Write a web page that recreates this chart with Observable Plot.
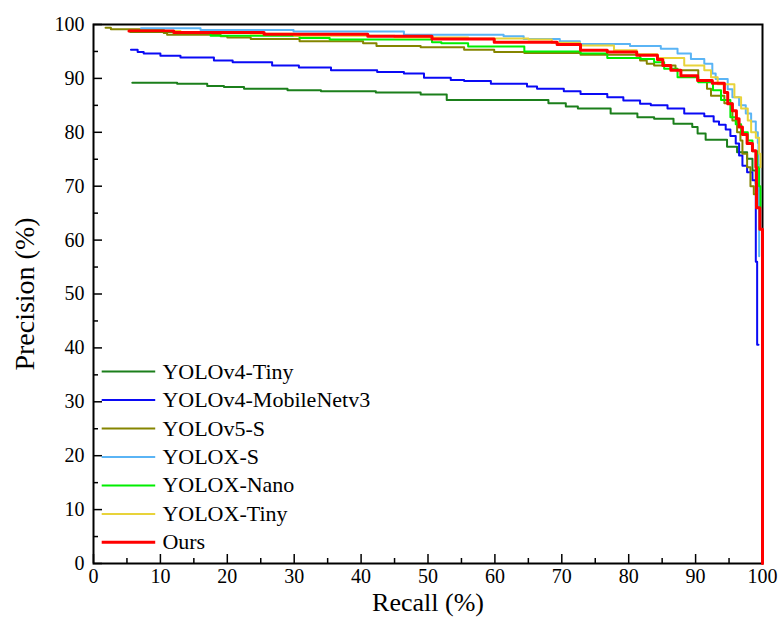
<!DOCTYPE html>
<html><head><meta charset="utf-8">
<script src="https://cdn.jsdelivr.net/npm/d3@7"></script>
<script src="https://cdn.jsdelivr.net/npm/@observablehq/plot@0.6"></script>
<style>
body{margin:0;background:#fff}
#chart{width:781px;height:624px}
#chart svg, #chart svg text{font-family:"Liberation Serif","Times New Roman",serif !important}
</style>
</head><body><div id="chart"></div>
<script>
// ---- data ----
const modelNames = ["YOLOv4-Tiny","YOLOv4-MobileNetv3","YOLOv5-S","YOLOX-S","YOLOX-Nano","YOLOX-Tiny","Ours"];
const modelColors = ["#1B7F1B","#0A0AF5","#858500","#5AB4F5","#00EE00","#E8D33A","#FF0000"];

const tinyV4Recall = [5.8,12.5,17,19.5,22.5,29,34,42.2,48.9,52.8,68,70.6,72.4,77.3,81.3,83.8,86.7,89.5,90.3,91.5,94.7,96.2,97.7,98.5,99.0,99.3,99.5,99.6];
const tinyV4Precision = [89.2,89.0,88.6,88.4,88.1,87.8,87.6,87.4,87.0,86.0,85.4,84.8,84.4,83.5,82.8,82.5,81.6,81.0,79.8,78.6,77.3,76.3,75.1,72.9,70.5,69.2,66.0,65.0];

const mobileRecall = [5.6,6.6,7.5,10,13,18,20.8,26.7,30.7,35.5,42.4,46.4,49.4,53.4,55.4,59.4,64.8,66.3,70.3,72.8,76.8,79.2,81.7,83.3,85.8,88.3,91.3,92.7,93.5,94.5,95.2,96.0,96.5,97.0,97.7,98.5,99.0,99.0,99.2,99.2,99.4];
const mobilePrecision = [95.3,94.9,94.6,94.2,93.9,93.3,93.0,92.4,92.0,91.5,91.2,90.9,90.1,89.7,89.5,89.0,88.5,88.1,87.6,87.1,86.5,85.9,85.3,85.0,84.4,83.5,83.0,82.0,81.4,80.5,79.3,77.9,75.7,73.8,72.6,71.1,66.0,56.0,56.0,40.6,40.6];

const v5sRecall = [1.8,2.6,10.5,11,19,20,23.5,30.8,40.3,42.3,48.9,55.4,59.9,64.4,72.8,81.7,82.7,83.8,87,90.4,91.7,92.3,94.3,95.5,96.2,96.7,97.0,97.7,98.2,98.7,99.3,99.5];
const v5sPrecision = [99.4,99.1,98.4,98.1,97.8,97.6,97.3,96.9,96.5,96.0,95.8,95.3,94.9,94.7,94.4,93.3,92.7,92.4,91.5,89.5,88.1,86.8,85.4,82.2,80.0,78.5,76.0,73.5,70.0,68.5,66.0,66.0];

const xsRecall = [7.1,16.0,29.9,46.4,61.3,64.3,69.7,72.7,80.2,84.8,87.3,89.3,91.3,92.5,93.0,94.8,95.5,96.5,97.5,98.3,99.0,99.3,99.4,99.5,99.5];
const xsPrecision = [99.3,99.0,98.7,98.1,97.8,97.3,96.9,96.4,96.0,95.5,94.6,93.6,92.7,90.9,89.9,88.0,86.5,85.0,83.5,82.0,80.0,78.0,74.0,68.0,57.0];

const nanoRecall = [5.5,17.5,30.8,35.3,50.6,52,56,64.4,72.8,76.8,81.8,83.8,85.3,87.3,90.4,92.6,93.8,95.2,96.0,96.8,97.8,98.5,99.2,99.5,99.7];
const nanoPrecision = [98.6,97.9,97.5,97.2,96.7,96.5,95.9,95.0,94.6,93.8,93.6,93.0,91.8,90.2,89.3,87.8,86.0,82.8,81.5,80.0,78.5,76.5,73.5,70.0,66.0];

const xTinyRecall = [5.5,13,23.5,30,45,56,65,68.5,72.7,77.8,81.2,84.3,88.3,91.3,92.3,93.3,95.8,96.8,97.8,98.3,99.0,99.5,99.7];
const xTinyPrecision = [98.8,98.6,98.3,97.9,97.6,97.4,97.2,96.6,96.1,95.2,94.5,93.8,92.4,91.5,90.2,88.9,86.5,84.4,82.2,80.0,79.0,76.0,73.5];

const oursRecall = [5.3,12,25.5,41,50.6,59.9,69.3,72.8,76.8,81.2,84.3,85.1,86.3,87.8,90.3,92.5,94.3,94.8,95.5,96.1,96.5,97.0,97.7,98.5,99.0,99.1,99.6,100,100];
const oursPrecision = [98.8,98.5,98.2,97.8,97.3,96.7,96.3,95.2,94.9,94.3,93.5,92.4,91.5,90.5,89.6,89.1,87.4,85.3,84.0,82.5,81.0,79.6,77.9,76.6,73.5,66.0,62.0,60.0,0];

const xMajorTicks = [0,10,20,30,40,50,60,70,80,90,100];
const xMinorTicks = [5,15,25,35,45,55,65,75,85,95];
const yMajorTicks = [0,10,20,30,40,50,60,70,80,90,100];
const yMinorTicks = [5,15,25,35,45,55,65,75,85,95];

// ---- build ----
const recalls = [tinyV4Recall, mobileRecall, v5sRecall, xsRecall, nanoRecall, xTinyRecall, oursRecall];
const precisions = [tinyV4Precision, mobilePrecision, v5sPrecision, xsPrecision, nanoPrecision, xTinyPrecision, oursPrecision];
const seriesData = modelNames.map((name, k) => recalls[k].map((r, i) => ({model: name, r, p: precisions[k][i]})));

const W = 781, H = 624, mL = 93, mR = 19, mT = 24, mB = 61;
const plotW = W - mL - mR, plotH = H - mT - mB;
const serif = "Liberation Serif";

const legendRows = modelNames.map((name, i) => ({name, color: modelColors[i], y: 35.6 - i * 5.28}));

const lineMarks = seriesData.map((d, k) => Plot.line(d, {
  x: "r", y: "p", stroke: modelColors[k], strokeWidth: k === 6 ? 3 : 2, curve: "step-after"
}));

const chart = Plot.plot({
  width: W, height: H,
  marginLeft: mL, marginRight: mR, marginTop: mT, marginBottom: mB,
  style: {fontFamily: serif, background: "white", color: "black"},
  x: {domain: [0, 100], label: null},
  y: {domain: [0, 100], label: null},
  marks: [
    Plot.frame({stroke: "black", strokeWidth: 2}),
    Plot.tickX(xMajorTicks, {x: d => d, insetTop: plotH - 9, stroke: "black", strokeWidth: 1.5}),
    Plot.tickX(xMinorTicks, {x: d => d, insetTop: plotH - 5, stroke: "black", strokeWidth: 1.5}),
    Plot.tickY(yMajorTicks, {y: d => d, insetRight: plotW - 9, stroke: "black", strokeWidth: 1.5}),
    Plot.tickY(yMinorTicks, {y: d => d, insetRight: plotW - 5, stroke: "black", strokeWidth: 1.5}),
    ...lineMarks,
    Plot.axisX({ticks: xMajorTicks, tickSize: 0, tickPadding: 5, fontSize: 20, fontFamily: serif, tickFormat: d => String(d)}),
    Plot.axisY({ticks: yMajorTicks, tickSize: 0, tickPadding: 9, fontSize: 20, fontFamily: serif, tickFormat: d => String(d)}),
    Plot.ruleY(legendRows, {y: "y", x1: 1.3, x2: 9.3, stroke: "color", strokeWidth: d => d.name === "Ours" ? 3 : 2}),
    Plot.text(legendRows, {x: 10.3, y: "y", text: "name", textAnchor: "start", fontSize: 22, fontFamily: serif, fill: "black"}),
    Plot.text(["Recall (%)"], {frameAnchor: "bottom", textAnchor: "middle", dy: 47, fontSize: 26, fontFamily: serif, fill: "black"}),
    Plot.text(["Precision (%)"], {frameAnchor: "left", textAnchor: "middle", dx: -68, rotate: -90, fontSize: 28, fontFamily: serif, fill: "black"})
  ]
});
document.getElementById("chart").append(chart);
</script>
</body></html>
